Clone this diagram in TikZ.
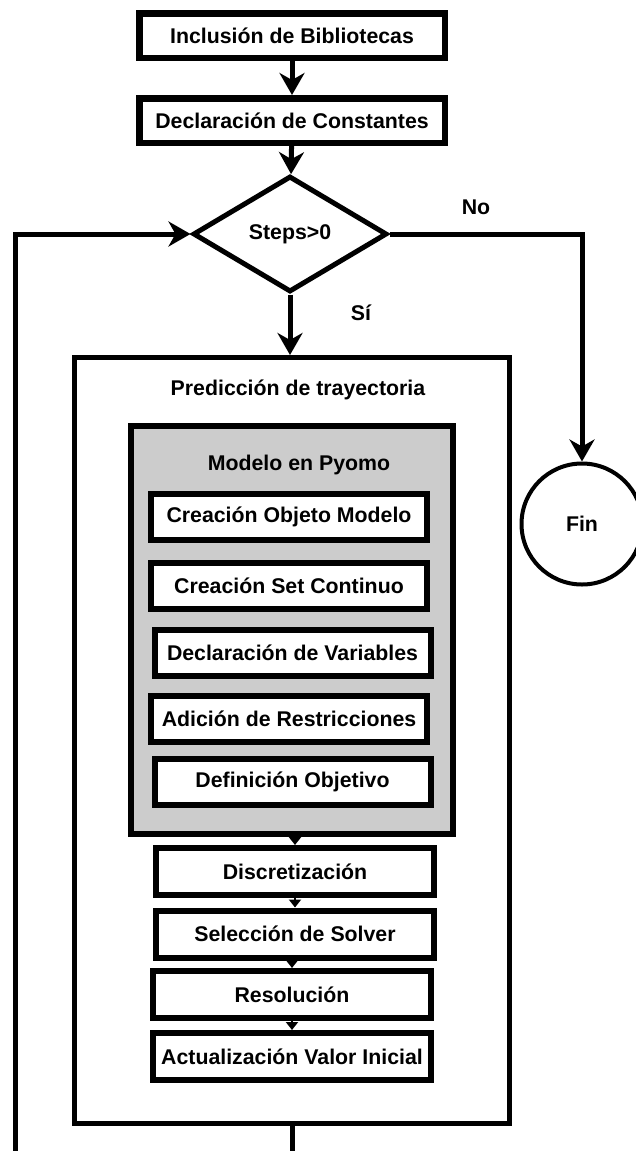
\documentclass[tikz,border=0pt]{standalone}
\usepackage{fontspec}
\setmainfont{Liberation Sans}
\usetikzlibrary{shapes.geometric,arrows.meta,calc}

\tikzset{
  x=1pt, y=-1pt,
  every node/.style={font=\fontsize{21.3}{25}\selectfont\bfseries, inner sep=0pt},
  topbox/.style={draw, line width=6.5pt, fill=white, rectangle, minimum width=305.5pt, minimum height=44.5pt},
  stepbox/.style={draw, line width=6pt, fill=white, rectangle, minimum width=276pt, minimum height=46pt},
  lowbox/.style={draw, line width=6pt, fill=white, rectangle, minimum width=278pt, minimum height=47pt},
  frame/.style={draw, line width=5pt, fill=white, rectangle},
  modelframe/.style={draw, line width=6pt, fill=black!20, rectangle},
  decision/.style={draw, diamond, line width=5pt, fill=white, minimum width=194pt, minimum height=116pt},
  terminal/.style={draw, circle, line width=4pt, fill=white, minimum size=121pt},
  arr/.style={line width=5pt, line join=miter, -{Stealth[length=22pt,width=25pt,inset=7pt]}},
  sarr/.style={line width=2pt, -{Triangle[length=8pt,width=12pt]}},
}

\begin{document}
\begin{tikzpicture}
  \useasboundingbox (0,0) rectangle (636,1151);
  \fill[white] (0,0) rectangle (636,1151);
  \clip (0,0) rectangle (636,1151);

  % top of the flow
  \node[topbox] (libs) at (292,35.5) {Inclusión de Bibliotecas};
  \node[topbox] (consts) at (292,120.5) {Declaración de Constantes};
  \node[decision] (cond) at (290,234) {Steps>0};
  \node[terminal] (fin) at (582,524) {Fin};

  % trajectory prediction block
  \node[frame, minimum width=435pt, minimum height=766pt] (pred) at (292,740.5) {};
  \node (predtitle) at (298,390) {Predicción de trayectoria};

  % Pyomo model block
  \node[modelframe, minimum width=322pt, minimum height=408pt] (pyomo) at (292,630) {};
  \node (pyomotitle) at (299,465) {Modelo en Pyomo};
  \node[stepbox] (obj) at (289,517) {Creación Objeto Modelo};
  \node[stepbox] (set) at (289,585.5) {Creación Set Continuo};
  \node[stepbox] (vars) at (292.5,653) {Declaración de Variables};
  \node[stepbox] (cons) at (289,718.5) {Adición de Restricciones};
  \node[stepbox] (objf) at (292.5,782) {Definición Objetivo};

  % solving steps
  \node[lowbox] (disc) at (295,871.5) {Discretización};
  \node[lowbox] (solver) at (295,934) {Selección de Solver};
  \node[lowbox] (solve) at (292,994.5) {Resolución};
  \node[lowbox] (update) at (292,1056.5) {Actualización Valor Inicial};

  % branch labels
  \node (no) at (476,207) {No};
  \node (si) at (361,313) {Sí};

  % connectors
  \draw[arr] (libs) -- (consts);
  \draw[arr] (consts) -- (cond);
  \draw[arr] (cond.south) -- (cond.south |- pred.north);
  \draw[arr] (cond.east) -| (fin.north);

  \draw[sarr] (pyomo.south -| disc.north) -- (disc.north);
  \draw[sarr] (disc.south) -- (solver.north -| disc.south);
  \draw[sarr] (solver.south -| solve.north) -- (solve.north);
  \draw[sarr] (solve.south) -- (update.north);

  % loop back to the condition
  \coordinate (loopbottom) at (292,1180);
  \coordinate (loopleft) at (15,1180);
  \draw[arr] (pred.south) -- (loopbottom) -- (loopleft) -- (loopleft |- cond.west) -- (cond.west);
\end{tikzpicture}
\end{document}
